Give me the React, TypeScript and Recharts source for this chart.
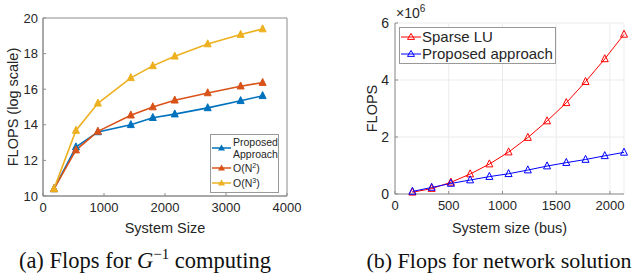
import React from "react";
import {
  LineChart,
  Line,
  XAxis,
  YAxis,
  CartesianGrid,
  ReferenceArea,
  Legend,
} from "recharts";

// (a) flops for G^-1, log scale
const sizesA = [180, 540, 900, 1440, 1800, 2160, 2700, 3240, 3600];
const proposedA = [10.4, 12.75, 13.6, 14.0, 14.4, 14.6, 14.95, 15.35, 15.63];
const orderN2 = [10.4, 12.58, 13.63, 14.54, 15.0, 15.38, 15.79, 16.17, 16.37];
const orderN3 = [10.4, 13.68, 15.21, 16.64, 17.31, 17.85, 18.54, 19.07, 19.38];
const ticksAX = [0, 1000, 2000, 3000, 4000];
const ticksAY = [10, 12, 14, 16, 18, 20];

// (b) flops for network solution, in units of 10^6
const sizesB = [162, 341, 520, 699, 878, 1057, 1236, 1415, 1594, 1773, 1952, 2131];
const sparseLU = [0.06, 0.19, 0.41, 0.7, 1.05, 1.47, 1.98, 2.56, 3.2, 3.94, 4.74, 5.6];
const proposedB = [0.09, 0.23, 0.37, 0.49, 0.61, 0.71, 0.84, 0.98, 1.1, 1.21, 1.34, 1.46];
const ticksBX = [0, 500, 1000, 1500, 2000];
const ticksBY = [0, 2, 4, 6];

const dataA = sizesA.map((s, i) => ({
  size: s,
  proposed: proposedA[i],
  n2: orderN2[i],
  n3: orderN3[i],
}));
const dataB = sizesB.map((s, i) => ({
  size: s,
  lu: sparseLU[i],
  proposed: proposedB[i],
}));

const FONT = '"Liberation Sans", Arial, Helvetica, sans-serif';
const SERIF = '"Liberation Serif", "Times New Roman", serif';
const INK = "#262626";
const AXIS = "#8c8c8c";
const BLUE = "#0072BD";
const ORANGE = "#D95319";
const YELLOW = "#EDB120";

const tri = (filled: boolean, size: number) => (props: any) => {
  const { cx, cy, stroke, index } = props;
  if (cx == null || cy == null) return <g key={index} />;
  const p = `${cx},${cy - size * 0.6} ${cx - size / 2},${cy + size * 0.4} ${cx + size / 2},${cy + size * 0.4}`;
  return (
    <polygon
      key={index}
      points={p}
      fill={filled ? stroke : "none"}
      stroke={stroke}
      strokeWidth={1}
    />
  );
};

const LegendA = () => {
  const mark = (y: number, c: string) => (
    <g>
      <line x1={2} x2={21} y1={y} y2={y} stroke={c} strokeWidth={1.5} />
      <polygon points={`11.5,${y - 3.6} 8,${y + 2.4} 15,${y + 2.4}`} fill={c} />
    </g>
  );
  return (
    <svg width={69} height={59} style={{ display: "block" }}>
      <rect x={0.5} y={0.5} width={68} height={58} fill="#fff" stroke="#999" />
      {mark(14, BLUE)}
      {mark(34, ORANGE)}
      {mark(49, YELLOW)}
      <g fontFamily={FONT} fontSize={10.5} fill={INK}>
        <text x={23} y={12}>Proposed</text>
        <text x={23} y={24}>Approach</text>
        <text x={23} y={38}>
          O(N<tspan dy={-4} fontSize={7}>2</tspan>
          <tspan dy={4}>)</tspan>
        </text>
        <text x={23} y={53}>
          O(N<tspan dy={-4} fontSize={7}>3</tspan>
          <tspan dy={4}>)</tspan>
        </text>
      </g>
    </svg>
  );
};

const LegendB = () => {
  const mark = (y: number, c: string) => (
    <g>
      <line x1={2} x2={22} y1={y} y2={y} stroke={c} strokeWidth={1} />
      <polygon
        points={`12,${y - 3.6} 8.5,${y + 2.4} 15.5,${y + 2.4}`}
        fill="none"
        stroke={c}
      />
    </g>
  );
  return (
    <svg width={157} height={37} style={{ display: "block" }}>
      <rect x={0.5} y={0.5} width={156} height={36} fill="#fff" stroke="#999" />
      {mark(10, "#ff0000")}
      {mark(27, "#0000ff")}
      <g fontFamily={FONT} fontSize={15} fill={INK}>
        <text x={23} y={15}>Sparse LU</text>
        <text x={23} y={32}>Proposed approach</text>
      </g>
    </svg>
  );
};

export default function App() {
  const tick = { fill: INK, fontSize: 13, fontFamily: FONT };
  const title = { fill: INK, fontSize: 14.5, fontFamily: FONT };
  return (
    <div
      style={{
        position: "absolute",
        left: 0,
        top: 0,
        width: 632,
        height: 275,
        background: "#fff",
        overflow: "hidden",
      }}
    >
      <div style={{ position: "absolute", left: 0, top: 0 }}>
        <LineChart
          width={320}
          height={240}
          data={dataA}
          margin={{ top: 18, right: 33, left: 0, bottom: 0 }}
        >
          <XAxis
            dataKey="size"
            type="number"
            domain={[0, 4000]}
            ticks={ticksAX}
            height={44}
            stroke={AXIS}
            tick={tick}
            tickSize={-3}
            tickMargin={10}
            label={{
              value: "System Size",
              position: "insideBottom",
              offset: 7,
              style: title,
            }}
          />
          <YAxis
            type="number"
            domain={[10, 20]}
            ticks={ticksAY}
            width={43}
            stroke={AXIS}
            tick={tick}
            tickSize={-3}
            tickMargin={8}
            label={{
              value: "FLOPS (log scale)",
              angle: -90,
              position: "center",
              dx: -9,
              style: { ...title, textAnchor: "middle" },
            }}
          />
          <ReferenceArea x1={0} x2={4000} y1={10} y2={20} fill="none" stroke={AXIS} />
          <Line
            dataKey="proposed"
            name="Proposed Approach"
            stroke={BLUE}
            strokeWidth={1.6}
            dot={tri(true, 7)}
            isAnimationActive={false}
          />
          <Line
            dataKey="n2"
            name="O(N2)"
            stroke={ORANGE}
            strokeWidth={1.6}
            dot={tri(true, 7)}
            isAnimationActive={false}
          />
          <Line
            dataKey="n3"
            name="O(N3)"
            stroke={YELLOW}
            strokeWidth={1.6}
            dot={tri(true, 7)}
            isAnimationActive={false}
          />
          <Legend
            layout="horizontal"
            verticalAlign="middle"
            align="center"
            content={() => <LegendA />}
            wrapperStyle={{ left: 210, top: 134, width: 69, height: 59 }}
          />
        </LineChart>
      </div>

      <div style={{ position: "absolute", left: 320, top: 0 }}>
        <LineChart
          width={312}
          height={240}
          data={dataB}
          margin={{ top: 23, right: 8, left: 0, bottom: 0 }}
        >
          <CartesianGrid stroke="#ebebeb" strokeWidth={1} />
          <XAxis
            dataKey="size"
            type="number"
            domain={[0, 2131]}
            ticks={ticksBX}
            height={46}
            stroke={AXIS}
            tick={tick}
            tickSize={-3}
            tickMargin={10}
            label={{
              value: "System size (bus)",
              position: "insideBottom",
              offset: 7,
              style: title,
            }}
          />
          <YAxis
            type="number"
            domain={[0, 6]}
            ticks={ticksBY}
            width={75}
            stroke={AXIS}
            tick={{ ...tick, fontSize: 14 }}
            tickSize={-3}
            tickMargin={9}
            label={{
              value: "FLOPS",
              angle: -90,
              position: "center",
              dx: 14,
              style: { ...title, textAnchor: "middle" },
            }}
          />
          <Line
            dataKey="lu"
            name="Sparse LU"
            stroke="#ff0000"
            strokeWidth={1}
            dot={tri(false, 7)}
            isAnimationActive={false}
          />
          <Line
            dataKey="proposed"
            name="Proposed approach"
            stroke="#0000ff"
            strokeWidth={1}
            dot={tri(false, 7)}
            isAnimationActive={false}
          />
          <Legend
            layout="horizontal"
            verticalAlign="middle"
            align="center"
            content={() => <LegendB />}
            wrapperStyle={{ left: 79, top: 27, width: 157, height: 37 }}
          />
        </LineChart>
        <div
          style={{
            position: "absolute",
            left: 76,
            top: 5,
            fontFamily: FONT,
            fontSize: 14,
            lineHeight: "16px",
            color: INK,
            whiteSpace: "nowrap",
          }}
        >
          ×10
          <span style={{ fontSize: 10, position: "relative", top: -6 }}>6</span>
        </div>
      </div>

      <div
        style={{
          position: "absolute",
          left: 0,
          width: 290,
          top: 248,
          textAlign: "center",
          fontFamily: SERIF,
          fontSize: 22.5,
          color: "#111",
          whiteSpace: "nowrap",
        }}
      >
        (a) Flops for <i>G</i>
        <span style={{ fontSize: 15, position: "relative", top: -9 }}>−1</span> computing
      </div>
      <div
        style={{
          position: "absolute",
          left: 349,
          width: 300,
          top: 248,
          textAlign: "center",
          fontFamily: SERIF,
          fontSize: 22,
          color: "#111",
          whiteSpace: "nowrap",
        }}
      >
        (b) Flops for network solution
      </div>
    </div>
  );
}
